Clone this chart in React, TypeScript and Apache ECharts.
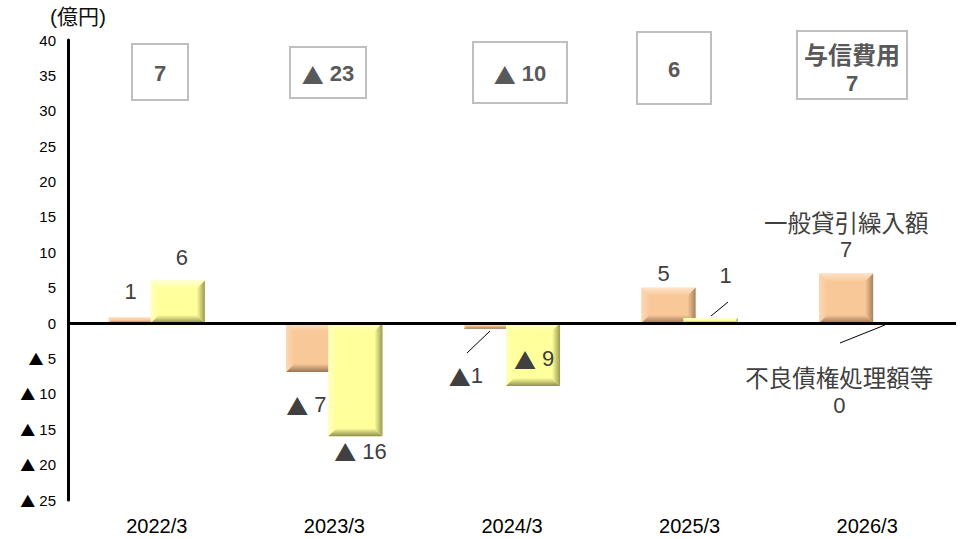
import React, { useEffect, useRef } from "react";
import * as echarts from "echarts";

const categories = ["2022/3", "2023/3", "2024/3", "2025/3", "2026/3"];
const provisionValues = [0.8, -6.9, -0.8, 5, 7]; // 一般貸引繰入額
const disposalValues = [6, -16, -8.9, 0.7, 0]; // 不良債権処理額等
const creditCostTotals = [7, -23, -10, 6, 7]; // 与信費用
const yTicks = { min: -25, max: 40, interval: 5 };

const FONT = "'Liberation Sans', Arial, 'Noto Sans CJK JP', sans-serif";
const CJK = "'Noto Sans CJK JP', sans-serif";
const BAR_W = 54;
const GAP_PCT = -0.22;
const OFFSET = (BAR_W + GAP_PCT * BAR_W) / 2;

const fmtRich = (v: number, tight = false) =>
  v < 0 ? "{t|▲}" + (tight ? "" : " ") + Math.round(-v) : String(Math.round(v));

const orangeLabelLayout: any[] = [
  { position: "top", distance: 12, offset: [-5, 0] },
  { position: "bottom", distance: 19, offset: [-7, 0] },
  { position: "bottom", distance: 33, offset: [-25, 0] },
  { position: "top", distance: 0, offset: [-5, 0] },
  { position: "top", distance: 10 },
];
const yellowLabelLayout: any[] = [
  { position: "top", distance: 9, offset: [4, 0] },
  { position: "bottom", distance: 1, offset: [5, 0] },
  { position: "inside", offset: [1, 4] },
  { position: "top", distance: 29, offset: [15, 0] },
  { position: "bottom", distance: 40, offset: [-49, 0] },
];

const BOXES = [
  { x: 132, y: 44, w: 56, h: 56 },
  { x: 290, y: 47, w: 76, h: 51 },
  { x: 473, y: 42, w: 94, h: 61 },
  { x: 637, y: 32, w: 74, h: 72 },
  { x: 797, y: 31, w: 110, h: 68 },
];

const LEADERS = [
  [490, 331, 467, 353],
  [711, 316, 728, 302],
  [885, 325, 840, 343],
];

const bevelColors = {
  orange: { face: "#F9C899", top: "#FDE3C8", left: "#FBD8B4", right: "#A8805C", bottom: "#9A7654" },
  yellow: { face: "#FFFF9C", top: "#FFFFD2", left: "#FFFFC0", right: "#9A9A50", bottom: "#8E8E4A" },
};

function grad(x: number, y: number, x2: number, y2: number, c1: string, c2: string) {
  return new echarts.graphic.LinearGradient(x, y, x2, y2, [
    { offset: 0, color: c1 },
    { offset: 1, color: c2 },
  ]);
}

function makeBar(sign: number, cols: any) {
  return (params: any, api: any) => {
    const i = api.value(0);
    const v = api.value(1);
    const base = api.coord([i, 0]);
    const end = api.coord([i, v]);
    const cx = base[0] + sign * OFFSET;
    const x = cx - BAR_W / 2;
    const y = Math.min(base[1], end[1]);
    const h = Math.abs(base[1] - end[1]);
    if (h < 0.5) return null;
    const w = BAR_W;
    const b = Math.min(8, h / 2, w / 2);
    const poly = (pts: number[][], fill: any) => ({
      type: "polygon",
      shape: { points: pts },
      style: { fill },
    });
    return {
      type: "group",
      children: [
        { type: "rect", shape: { x, y, width: w, height: h }, style: { fill: cols.face } },
        poly([[x, y], [x + w, y], [x + w - b, y + b], [x + b, y + b]], grad(0, 0, 0, 1, cols.top, cols.face)),
        poly([[x, y], [x + b, y + b], [x + b, y + h - b], [x, y + h]], grad(0, 0, 1, 0, cols.left, cols.face)),
        poly([[x + w, y], [x + w, y + h], [x + w - b, y + h - b], [x + w - b, y + b]], grad(1, 0, 0, 0, cols.right, cols.face)),
        poly([[x, y + h], [x + b, y + h - b], [x + w - b, y + h - b], [x + w, y + h]], grad(0, 1, 0, 0, cols.bottom, cols.face)),
      ],
    };
  };
}

export default function App() {
  const ref = useRef<HTMLDivElement>(null);
  useEffect(() => {
    if (!ref.current) return;
    const chart = echarts.init(ref.current, null, { renderer: "svg" });
    const labelFormatter = (p: any) => {
      const s = fmtRich(p.value, p.seriesIndex === 2 && p.dataIndex === 2);
      return p.dataIndex === 4 ? "{c|" + p.seriesName + "}\n" + s : s;
    };
    const baseLabel = {
      show: true,
      color: "#404040",
      fontSize: 22,
      fontFamily: FONT,
      lineHeight: 28,
      formatter: labelFormatter,
      rich: {
        t: { fontFamily: CJK, fontSize: 22, color: "#404040", lineHeight: 28 },
        c: { fontFamily: CJK, fontSize: 23.5, color: "#404040", lineHeight: 28 },
      },
    };
    const graphic: any[] = [
      {
        type: "text",
        left: 50,
        top: 6,
        style: { text: "(億円)", fontSize: 21, fill: "#111", fontFamily: FONT },
      },
    ];
    BOXES.forEach((bx, i) => {
      const v = fmtRich(creditCostTotals[i]);
      const last = i === BOXES.length - 1;
      graphic.push({
        type: "rect",
        shape: { x: bx.x, y: bx.y, width: bx.w, height: bx.h },
        style: { fill: "#fff", stroke: "#BFBFBF", lineWidth: 2 },
      });
      graphic.push({
        type: "text",
        x: bx.x + bx.w / 2,
        y: bx.y + bx.h / 2 + (last ? 3 : 1),
        style: {
          text: last ? "{c|与信費用}\n" + v : v,
          align: "center",
          verticalAlign: "middle",
          fontSize: 22,
          fontWeight: "bold",
          lineHeight: 30,
          fill: "#595959",
          fontFamily: FONT,
          rich: {
            c: { fontFamily: CJK, fontSize: 24, fontWeight: "bold", fill: "#595959", lineHeight: 30 },
            t: { fontFamily: CJK, fontSize: 22, fontWeight: "bold", fill: "#595959", lineHeight: 30 },
          },
        },
      });
    });
    LEADERS.forEach((l) => {
      graphic.push({
        type: "line",
        shape: { x1: l[0], y1: l[1], x2: l[2], y2: l[3] },
        style: { stroke: "#000", lineWidth: 1 },
        z: 20,
      });
    });

    const barCommon = {
      type: "bar",
      barWidth: BAR_W,
      barGap: GAP_PCT * 100 + "%",
      itemStyle: { color: "rgba(0,0,0,0)" },
      label: baseLabel,
      silent: true,
    };

    chart.setOption({
      animation: false,
      backgroundColor: "#fff",
      grid: { left: 68, right: 8, top: 40, bottom: 39 },
      xAxis: {
        type: "category",
        data: categories,
        axisLine: { show: false, onZero: false },
        axisTick: { show: false },
        axisLabel: { color: "#000", fontSize: 20, fontFamily: FONT, margin: 16 },
      },
      yAxis: {
        type: "value",
        min: yTicks.min,
        max: yTicks.max,
        interval: yTicks.interval,
        axisLine: { show: true, lineStyle: { color: "#000", width: 3 } },
        axisTick: { show: false },
        splitLine: { show: false },
        axisLabel: {
          color: "#000",
          fontSize: 15,
          fontFamily: FONT,
          margin: 12,
          formatter: (v: number) => (v < 0 ? "{t|▲} " + -v : String(v)),
          rich: { t: { fontFamily: CJK, fontSize: 15, color: "#000" } },
        },
      },
      graphic,
      series: [
        {
          name: "一般貸引繰入額 bar",
          type: "custom",
          z: 2,
          renderItem: makeBar(-1, bevelColors.orange),
          encode: { x: 0, y: 1 },
          data: provisionValues.map((v, i) => [i, v]),
          silent: true,
        },
        {
          name: "不良債権処理額等 bar",
          type: "custom",
          z: 3,
          renderItem: makeBar(1, bevelColors.yellow),
          encode: { x: 0, y: 1 },
          data: disposalValues.map((v, i) => [i, v]),
          silent: true,
        },
        {
          ...barCommon,
          name: "一般貸引繰入額",
          z: 6,
          data: provisionValues.map((v, i) => ({ value: v, label: orangeLabelLayout[i] })),
        },
        {
          ...barCommon,
          name: "不良債権処理額等",
          z: 7,
          data: disposalValues.map((v, i) => ({ value: v, label: yellowLabelLayout[i] })),
        },
        {
          name: "zero",
          type: "line",
          data: [],
          z: 10,
          markLine: {
            silent: true,
            symbol: "none",
            label: { show: false },
            lineStyle: { color: "#000", width: 3, type: "solid" },
            data: [{ yAxis: 0 }],
          },
        },
      ],
    });
    return () => chart.dispose();
  }, []);
  return (
    <div
      ref={ref}
      style={{ position: "fixed", left: 0, top: 0, width: 964, height: 539 }}
    />
  );
}
